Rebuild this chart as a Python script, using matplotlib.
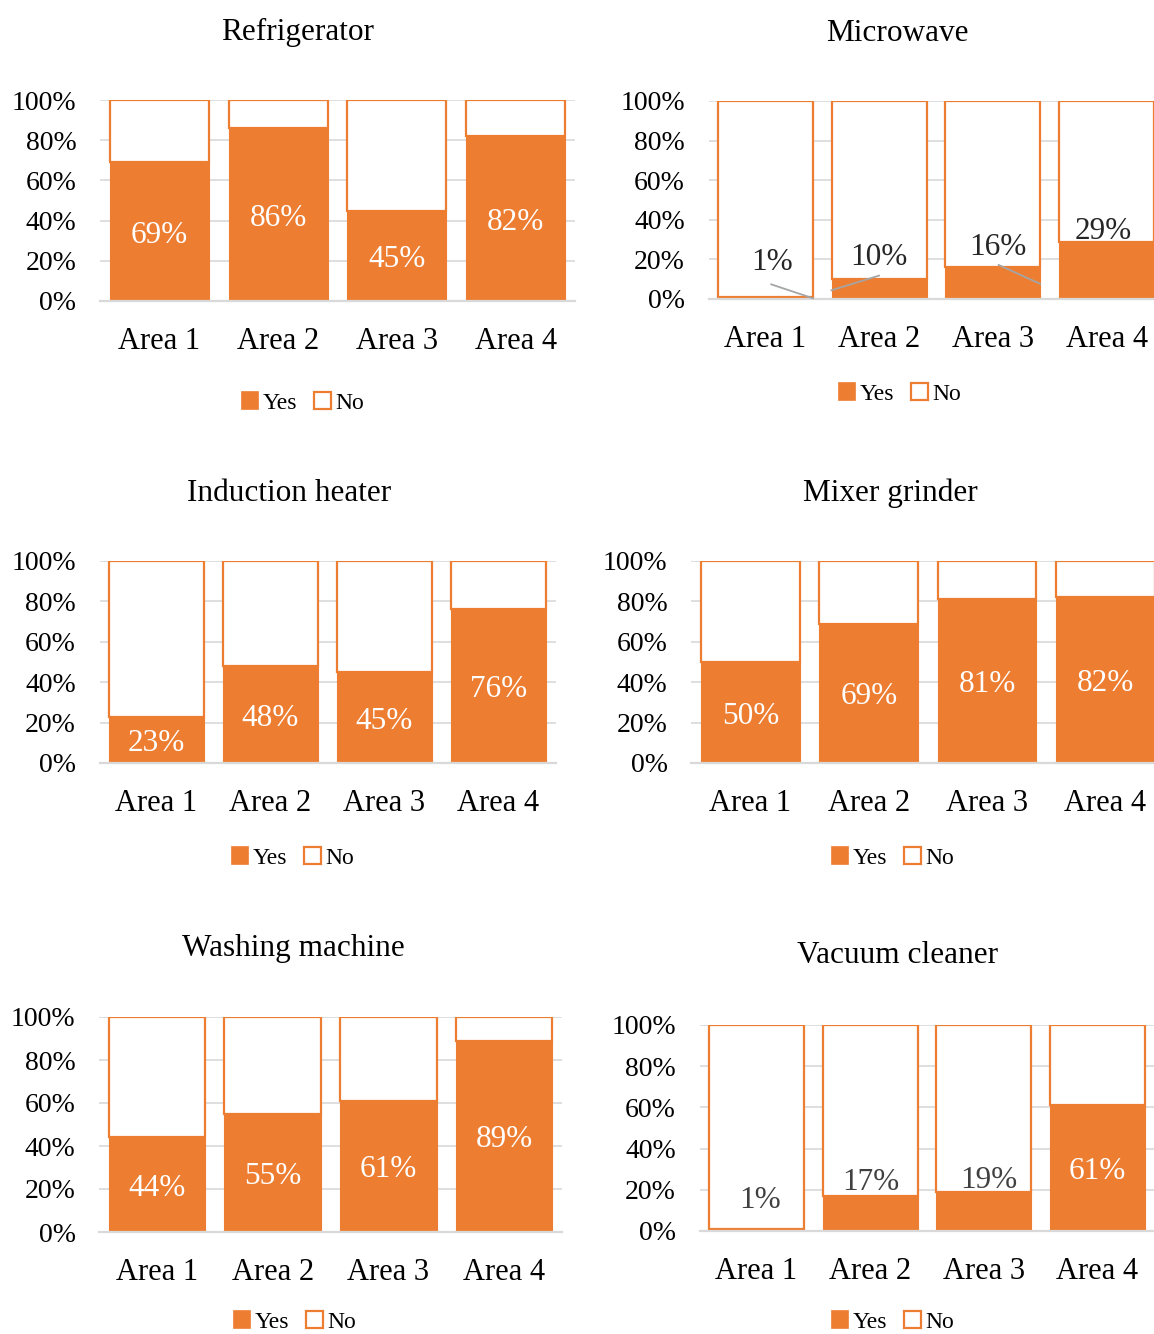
import matplotlib
matplotlib.use("Agg")
import matplotlib.pyplot as plt
from matplotlib.patches import Patch

plt.rcParams["font.family"] = ["Liberation Serif", "DejaVu Serif"]

# ---- data -------------------------------------------------------------
areas = ["Area 1", "Area 2", "Area 3", "Area 4"]
y_ticks = [0, 20, 40, 60, 80, 100]

titles = ["Refrigerator", "Microwave", "Induction heater",
          "Mixer grinder", "Washing machine", "Vacuum cleaner"]

refrigerator_yes = [69, 86, 45, 82]
microwave_yes = [1, 10, 16, 29]
induction_yes = [23, 48, 45, 76]
mixer_yes = [50, 69, 81, 82]
washing_yes = [44, 55, 61, 89]
vacuum_yes = [1, 17, 19, 61]

yes_series = [refrigerator_yes, microwave_yes, induction_yes,
              mixer_yes, washing_yes, vacuum_yes]

# ---- styling ----------------------------------------------------------
W, H = 1154, 1334
ORANGE = "#ED7D31"
GRID = "#D9D9D9"
BAR_W = 0.835

# panel frames in pixels: left, right, top (100 %), bottom (0 %)
frames = [
    (100.0, 575.0, 100, 301),
    (708.7, 1163.5, 101, 299),
    (99.5, 555.5, 561, 763),
    (691.3, 1164.5, 561, 763),
    (99.2, 562.0, 1017, 1232),
    (699.6, 1154.4, 1025, 1231),
]
title_pos = [(298, 32.5), (897, 33.5), (289, 493.5), (890, 493.5), (293, 948.5), (898, 955.5)]
legend_pos = [(303, 403), (900, 394), (293, 858), (893, 858), (295, 1322), (893, 1322)]

# labels that sit above short bars: (x, y) in data units, plus leader lines
moved_labels = {
    1: {"pos": [(0.06, 20.2), (1.0, 22.7), (2.04, 27.8), (2.97, 35.9)],
        "color": "#262626",
        "leaders": {0: ((0.05, 7.4), (0.417, 0.35)),
                    1: ((0.579, 4.4), (0.998, 11.8)),
                    2: ((2.05, 17.2), (2.414, 7.7))}},
    5: {"pos": [(0.03, 16.5), (1.006, 25.2), (2.04, 26.2), None],
        "color": "#404040",
        "leaders": {}},
}


def px_rect(l, r, t, b):
    return [l / W, 1 - b / H, (r - l) / W, (b - t) / H]


fig = plt.figure(figsize=(W / 100, H / 100), dpi=100)

for i, (title, yes) in enumerate(zip(titles, yes_series)):
    ax = fig.add_axes(px_rect(*frames[i]))
    no = [100 - v for v in yes]
    x = list(range(len(areas)))

    ax.bar(x, yes, width=BAR_W, color=ORANGE, edgecolor=ORANGE,
           linewidth=0.8, zorder=2)
    ax.bar(x, no, bottom=yes, width=BAR_W, color="white",
           edgecolor=ORANGE, linewidth=1.6, zorder=2)

    ax.set_xlim(-0.5, 3.5)
    ax.set_ylim(0, 100)
    ax.set_yticks(y_ticks)
    ax.set_yticklabels([f"{t}%" for t in y_ticks])
    ax.set_xticks(x)
    ax.set_xticklabels(areas)
    ax.tick_params(axis="y", length=0, pad=17, labelsize=20)
    ax.tick_params(axis="x", length=0, pad=18.5, labelsize=22)

    ax.set_axisbelow(True)
    ax.yaxis.grid(True, color=GRID, linewidth=1.2)
    for side in ("top", "right", "left"):
        ax.spines[side].set_visible(False)
    ax.spines["bottom"].set_color(GRID)
    ax.spines["bottom"].set_linewidth(1.6)
    ax.spines["bottom"].set_zorder(3)

    # value labels
    moved = moved_labels.get(i)
    for j, v in enumerate(yes):
        if moved is not None and moved["pos"][j] is not None:
            lx, ly = moved["pos"][j]
            ax.text(lx, ly, f"{v}%", ha="center", va="center_baseline",
                    fontsize=22.5, color=moved["color"], zorder=4)
            if j in moved["leaders"]:
                (x0, y0), (x1, y1) = moved["leaders"][j]
                ax.plot([x0, x1], [y0, y1], color="#A5A5A5",
                        linewidth=1.3, zorder=4, clip_on=False)
        else:
            ax.text(j, v / 2, f"{v}%", ha="center", va="center_baseline",
                    fontsize=22.5, color="white", zorder=4)

    tx, ty = title_pos[i]
    fig.text(tx / W, 1 - ty / H, title, ha="center", va="center",
             fontsize=22.5)

    lx, ly = legend_pos[i]
    handles = [Patch(facecolor=ORANGE, edgecolor=ORANGE, linewidth=1.2),
               Patch(facecolor="white", edgecolor=ORANGE, linewidth=1.6)]
    fig.legend(handles, ["Yes", "No"], loc="center",
               bbox_to_anchor=(lx / W, 1 - ly / H), ncol=2, frameon=False,
               fontsize=17, handlelength=0.7, handleheight=0.7,
               handletextpad=0.2, columnspacing=0.7, borderpad=0)

fig.savefig("out.png", dpi=100)
